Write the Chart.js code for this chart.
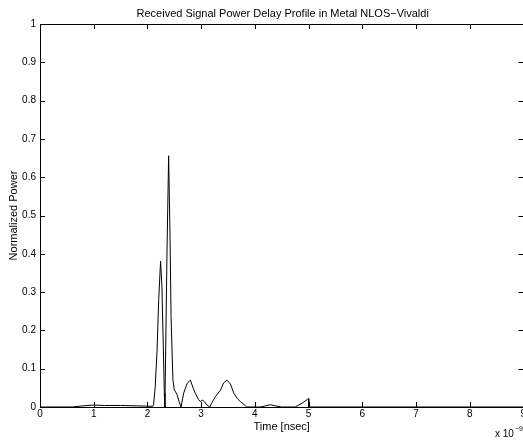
<!DOCTYPE html>
<html>
<head>
<meta charset="utf-8">
<script src="https://cdn.jsdelivr.net/npm/chart.js@4/dist/chart.umd.min.js"></script>
<style>
  html, body { margin: 0; padding: 0; background: #fff; overflow: hidden; width: 523px; height: 441px; }
  #wrap { position: absolute; left: 0; top: 0; width: 560px; height: 441px; }
</style>
</head>
<body>
<div id="wrap"><canvas id="c" width="560" height="441"></canvas></div>
<script>
const chartTitle = "Received Signal Power Delay Profile in Metal NLOS\u2212Vivaldi";
const xTitle = "Time [nsec]";
const yTitle = "Normalized Power";
const xTicks = [0, 1, 2, 3, 4, 5, 6, 7, 8, 9];
const yTicks = [0, 0.1, 0.2, 0.3, 0.4, 0.5, 0.6, 0.7, 0.8, 0.9, 1];

const timeNs = [0, 0.6, 0.8, 1.0, 1.2, 1.5, 1.8, 2.05, 2.1, 2.115, 2.145, 2.18, 2.21, 2.245, 2.27, 2.29, 2.315, 2.325,
  2.34, 2.365, 2.395, 2.42, 2.44, 2.475, 2.5, 2.55, 2.59, 2.625, 2.675, 2.74, 2.8, 2.85, 2.89, 2.95, 2.985, 3.0, 3.02,
  3.06, 3.11, 3.16, 3.2, 3.265, 3.36, 3.42, 3.48, 3.545, 3.61, 3.67, 3.73, 3.79, 3.82, 3.85, 4.1, 4.2, 4.29, 4.38, 4.5,
  4.75, 4.88, 4.98, 5.0, 5.005, 9];
const power = [0, 0, 0.003, 0.005, 0.004, 0.004, 0.003, 0.002, 0.002, 0.006, 0.053, 0.149, 0.28, 0.381, 0.314, 0.193, 0.036, 0,
  0.149, 0.41, 0.656, 0.454, 0.236, 0.07, 0.045, 0.033, 0.014, 0, 0.036, 0.062, 0.07, 0.05, 0.036, 0.02, 0.014, 0.016, 0.018,
  0.014, 0.005, 0, 0.011, 0.027, 0.044, 0.063, 0.07, 0.06, 0.036, 0.023, 0.014, 0.008, 0.003, 0, 0, 0.003, 0.006, 0.003, 0,
  0, 0.01, 0.02, 0.022, 0, 0];

const FONT = "'Liberation Sans', Arial, Helvetica, sans-serif";

const matlabAxes = {
  id: 'matlabAxes',
  afterDraw(chart) {
    const ctx = chart.ctx;
    const a = chart.chartArea;
    const xs = chart.scales.x, ys = chart.scales.y;
    const tl = 5;
    ctx.save();
    ctx.strokeStyle = '#000';
    ctx.lineWidth = 1;
    ctx.beginPath();
    ctx.rect(Math.round(a.left) + 0.5, Math.round(a.top) + 0.5, Math.round(a.right - a.left), Math.round(a.bottom - a.top));
    xTicks.forEach(v => {
      const px = Math.round(xs.getPixelForValue(v)) + 0.5;
      ctx.moveTo(px, a.bottom); ctx.lineTo(px, a.bottom - tl);
      ctx.moveTo(px, a.top); ctx.lineTo(px, a.top + tl);
    });
    yTicks.forEach(v => {
      const py = Math.round(ys.getPixelForValue(v)) + 0.5;
      ctx.moveTo(a.left, py); ctx.lineTo(a.left + tl, py);
      ctx.moveTo(a.right, py); ctx.lineTo(a.right - tl, py);
    });
    ctx.stroke();
    ctx.fillStyle = '#000';
    // title, centred over the axes box
    ctx.font = '11px ' + FONT;
    ctx.textAlign = 'center';
    ctx.textBaseline = 'alphabetic';
    ctx.fillText(chartTitle, (a.left + a.right) / 2 + 1, 17);
    // exponent label
    ctx.font = '10px ' + FONT;
    ctx.textAlign = 'left';
    ctx.fillText('x 10', 495, 437);
    ctx.font = '7px ' + FONT;
    ctx.fillText('\u22129', 515, 431);
    ctx.restore();
  }
};

new Chart(document.getElementById('c'), {
  type: 'line',
  data: {
    datasets: [{
      data: timeNs.map((t, i) => ({ x: t, y: power[i] })),
      borderColor: '#000',
      borderWidth: 1,
      pointRadius: 0,
      tension: 0,
      fill: false
    }]
  },
  options: {
    responsive: false,
    animation: false,
    layout: { padding: { left: 0, right: 36.6, top: 24, bottom: 0 } },
    plugins: {
      legend: { display: false },
      tooltip: { enabled: false },
      title: { display: false }
    },
    scales: {
      x: {
        type: 'linear',
        min: 0, max: 9,
        afterBuildTicks: s => { s.ticks = xTicks.map(v => ({ value: v })); },
        afterFit: s => { s.height = 34; },
        ticks: { color: '#000', font: { family: FONT, size: 10 }, padding: 1, maxRotation: 0, autoSkip: false },
        grid: { display: false, drawTicks: false },
        border: { display: false },
        title: { display: true, text: xTitle, color: '#000', font: { family: FONT, size: 11, lineHeight: 1.2 }, padding: { top: 1, bottom: 7.5 } }
      },
      y: {
        type: 'linear',
        min: 0, max: 1,
        afterBuildTicks: s => { s.ticks = yTicks.map(v => ({ value: v })); },
        afterFit: s => { s.width = 40; },
        ticks: { color: '#000', font: { family: FONT, size: 10 }, padding: 4, autoSkip: false, callback: v => String(v) },
        grid: { display: false, drawTicks: false },
        border: { display: false },
        title: { display: true, text: yTitle, color: '#000', font: { family: FONT, size: 11, lineHeight: 1.2 }, padding: { top: 7.5, bottom: 0 } }
      }
    }
  },
  plugins: [matlabAxes]
});
</script>
</body>
</html>
